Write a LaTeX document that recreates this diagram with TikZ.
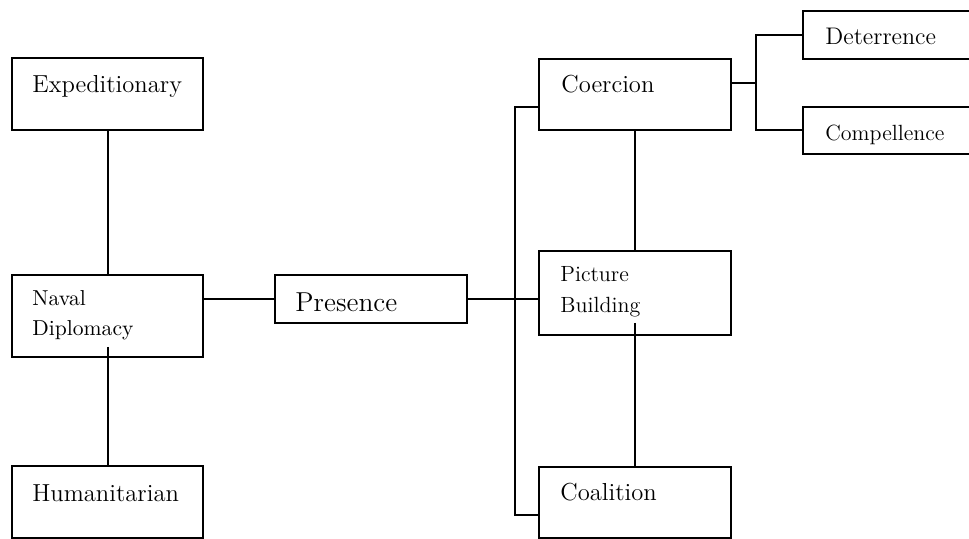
\documentclass[tikz,border=0pt]{standalone}
\tikzset{
  box/.style={draw, line width=1pt, inner sep=0pt, outer sep=0pt, anchor=north west},
  txt/.style={inner sep=0pt, anchor=base west, font=\fontsize{12.3}{15}\selectfont},
  small/.style={txt, align=left, font=\fontsize{10.8}{15}\selectfont},
  wire/.style={line width=1pt}
}
\begin{document}
\begin{tikzpicture}[x=0.5pt, y=-0.5pt]
    \useasboundingbox (0,0) rectangle (969,539);

    % Left column
    \node[box, minimum width=95.5pt, minimum height=36pt] (exped) at (12,58) {};
    \node[box, minimum width=95.5pt, minimum height=41pt] (naval) at (12,275) {};
    \node[box, minimum width=95.5pt, minimum height=36pt] (human) at (12,466) {};
    \node[txt] (expedt) at (32,93) {Expeditionary};
    \node[small] (navalt) at (32,336) {Naval\\Diplomacy};
    \node[txt] (humant) at (32,502) {Humanitarian};

    % Presence
    \node[box, minimum width=96pt, minimum height=24pt] (pres) at (275,275) {};
    \node[txt, font=\fontsize{13.7}{15}\selectfont] (prest) at (295,312) {Presence};

    % Middle column
    \node[box, minimum width=96pt, minimum height=35.5pt] (coer) at (539,59) {};
    \node[box, minimum width=96pt, minimum height=42pt] (pict) at (539,251) {};
    \node[box, minimum width=96pt, minimum height=35.5pt] (coal) at (539,467) {};
    \node[txt] (coert) at (561,93) {Coercion};
    \node[small, font=\fontsize{11}{15.5}\selectfont] (pictt) at (560,313) {Picture\\Building};
    \node[txt] (coalt) at (560,501) {Coalition};

    % Right column
    \node[box, minimum width=100pt, minimum height=24pt] (deter) at (803,11) {};
    \node[box, minimum width=100pt, minimum height=23.5pt] (comp) at (803,107) {};
    \node[txt, font=\fontsize{12}{15}\selectfont] (detert) at (825,45) {Deterrence};
    \node[txt, font=\fontsize{11}{15}\selectfont] (compt) at (825,141) {Compellence};

    % Connectors
    \coordinate (brtop) at (515,107);
    \coordinate (brbot) at (515,515);
    \coordinate (fork) at (756,83);

    \draw[wire] (exped.south) -- (naval.north);
    \draw[wire] ([yshift=5pt]naval.south) -- (human.north);
    \draw[wire] (pres.west -| naval.east) -- (pres.west);
    \draw[wire] (pres.east) -- (pres.east -| pict.west);
    \draw[wire] (coer.west |- brtop) -- (brtop) -- (brbot) -- (coal.west |- brbot);
    \draw[wire] (coer.south) -- (pict.north);
    \draw[wire] ([yshift=6pt]pict.south) -- (coal.north);
    \draw[wire] (coer.east |- fork) -- (fork);
    \draw[wire] (deter.west) -- (deter.west -| fork) -- (comp.west -| fork) -- (comp.west);
\end{tikzpicture}
\end{document}
